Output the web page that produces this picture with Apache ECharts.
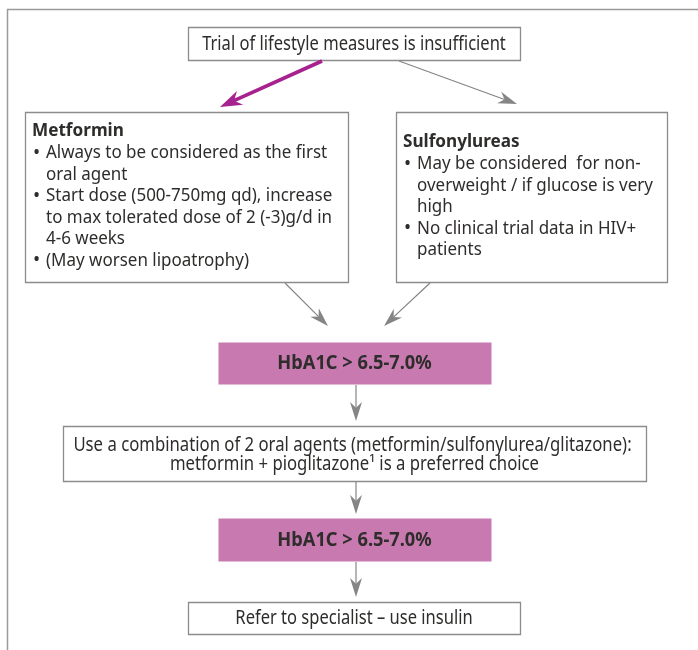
<!DOCTYPE html>
<html>
<head>
<meta charset="utf-8">
<script src="https://cdn.jsdelivr.net/npm/echarts@6/dist/echarts.min.js"></script>
<style>
  html, body { margin: 0; padding: 0; background: #fff; }
  #chart { width: 698px; height: 650px; }
</style>
</head>
<body>
<div id="chart"></div>
<script>
// 流程图文字
const startText = "Trial of lifestyle measures is insufficient";
const metforminTitle = "Metformin";
const metforminLines = [
  "Always to be considered as the first",
  "oral agent",
  "Start dose (500-750mg qd), increase",
  "to max tolerated dose of 2 (-3)g/d in",
  "4-6 weeks",
  "(May worsen lipoatrophy)"
];
const metforminBullets = [1, 0, 1, 0, 0, 1];
const sulfonylureaTitle = "Sulfonylureas";
const sulfonylureaLines = [
  "May be considered  for non-",
  "overweight / if glucose is very",
  "high",
  "No clinical trial data in HIV+",
  "patients"
];
const sulfonylureaBullets = [1, 0, 0, 1, 0];
const hba1cText = "HbA1C > 6.5-7.0%";
const comboLines = [
  "Use a combination of 2 oral agents (metformin/sulfonylurea/glitazone):",
  "metformin + pioglitazone\u00b9 is a preferred choice"
];
const finalText = "Refer to specialist \u2013 use insulin";

// 布局 (x, y, 宽, 高)
const boxLayout = {
  start: [188, 27, 332, 33],
  metformin: [25, 112, 323, 170],
  sulfonylurea: [396, 112, 271, 170],
  hba1: [218, 342, 273, 42],
  combo: [63, 426, 583, 55],
  hba2: [218, 518, 273, 43],
  final: [188, 602, 332, 32]
};
// 箭头 [起点x, 起点y, 终点x, 终点y, 样式]
const arrowLayout = [
  [322, 61, 220, 107, "main"],
  [399, 61, 517, 104, "grey"],
  [285, 283, 328, 326, "grey"],
  [430, 283, 384, 326, "grey"],
  [356, 385, 356, 421, "grey"],
  [356, 482, 356, 514, "grey"],
  [356, 562, 356, 597, "grey"]
];

const BORDER = "#8c8c8c";
const TEXT = "#2e2d2c";
const PINK = "#c779b0";
const FONT = "'Noto Sans', 'Open Sans', sans-serif";

const arrowStyle = {
  main: { color: "#a7218f", width: 3.6, len: 22, head: 15 },
  grey: { color: "#858585", width: 1.2, len: 19, head: 12 }
};

function box(key, fill) {
  const b = boxLayout[key];
  return {
    type: "rect",
    shape: { x: b[0] + 0.5, y: b[1] + 0.5, width: b[2], height: b[3] },
    style: { fill: fill || "#fff", stroke: fill ? null : BORDER, lineWidth: 1.3 },
    z: 1
  };
}

//窄体文字，用 scaleX 模拟 condensed
function label(text, x, y, opts = {}) {
  return {
    type: "text",
    x: x,
    y: y,
    scaleX: opts.scaleX || 1,
    style: {
      text: text,
      x: 0,
      y: 0,
      fill: TEXT,
      font: `${opts.weight || "normal"} ${opts.size || 16}px ${FONT}`,
      align: opts.align || "center",
      verticalAlign: "middle"
    },
    z: 5
  };
}

function bulletList(title, lines, bullets, x, y, lh) {
  const els = [label(title, x, y, { weight: "bold", size: 17.5, align: "left", scaleX: 0.98 })];
  lines.forEach((t, i) => {
    const ly = y + 22.5 + i * lh;
    if (bullets[i]) {
      els.push(label("\u2022", x + 1, ly, { size: 19, align: "left" }));
    }
    els.push(label(t, x + 14, ly, { size: 17.5, align: "left", scaleX: 0.97 }));
  });
  return els;
}

function arrow(a) {
  const s = arrowStyle[a[4]];
  const dx = a[2] - a[0], dy = a[3] - a[1];
  const d = Math.sqrt(dx * dx + dy * dy);
  const ux = dx / d, uy = dy / d;
  const nx = -uy, ny = ux;
  const tx = a[2], ty = a[3];
  const bx = tx - ux * s.len, by = ty - uy * s.len;
  const mx = tx - ux * s.len * 0.7, my = ty - uy * s.len * 0.7;
  return [
    {
      type: "line",
      shape: { x1: a[0], y1: a[1], x2: mx, y2: my },
      style: { stroke: s.color, lineWidth: s.width },
      z: 3
    },
    {
      type: "polygon",
      shape: {
        points: [
          [tx, ty],
          [bx + nx * s.head / 2, by + ny * s.head / 2],
          [mx, my],
          [bx - nx * s.head / 2, by - ny * s.head / 2]
        ]
      },
      style: { fill: s.color },
      z: 3
    }
  ];
}

function center(key) {
  const b = boxLayout[key];
  return [b[0] + b[2] / 2, b[1] + b[3] / 2];
}

const elements = [];
// 外框
elements.push({ type: "line", shape: { x1: 7, y1: 9.5, x2: 698, y2: 9.5 }, style: { stroke: "#9a9a9a", lineWidth: 1.5 } });
elements.push({ type: "line", shape: { x1: 7.5, y1: 9, x2: 7.5, y2: 650 }, style: { stroke: "#9a9a9a", lineWidth: 1.5 } });

["start", "metformin", "sulfonylurea", "combo", "final"].forEach(k => elements.push(box(k)));
["hba1", "hba2"].forEach(k => elements.push(box(k, PINK)));

let c = center("start");
elements.push(label(startText, c[0], c[1] + 1, { size: 19, scaleX: 0.87 }));

elements.push(...bulletList(metforminTitle, metforminLines, metforminBullets, 32, 131, 21.5));
elements.push(...bulletList(sulfonylureaTitle, sulfonylureaLines, sulfonylureaBullets, 403, 142, 21.5));

["hba1", "hba2"].forEach(k => {
  const p = center(k);
  elements.push(label(hba1cText, p[0], p[1] + 1, { size: 19, weight: "bold", scaleX: 0.96 }));
});

c = center("combo");
elements.push(label(comboLines[0], c[0] - 2, c[1] - 8, { size: 19, scaleX: 0.88 }));
elements.push(label(comboLines[1], c[0], c[1] + 11, { size: 19, scaleX: 0.88 }));

c = center("final");
elements.push(label(finalText, c[0], c[1] + 1, { size: 19, scaleX: 0.87 }));

arrowLayout.forEach(a => elements.push(...arrow(a)));

const chart = echarts.init(document.getElementById("chart"), null, { renderer: "canvas" });
chart.setOption({
  backgroundColor: "#fff",
  animation: false,
  graphic: { elements: elements }
});
</script>
</body>
</html>
